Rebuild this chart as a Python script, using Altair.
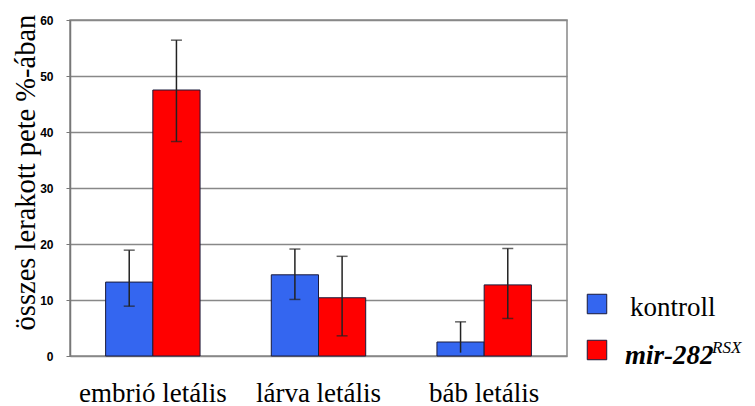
import altair as alt
import pandas as pd

categories = ["embrió letális", "lárva letális", "báb letális"]
series = ["kontroll", "mir-282RSX"]
kontroll = [13.2, 14.5, 2.5]
kontroll_lo = [8.9, 10.1, 0.6]
kontroll_hi = [18.9, 19.1, 6.1]
mir = [47.5, 10.4, 12.7]
mir_lo = [38.3, 3.6, 6.7]
mir_hi = [56.4, 17.8, 19.2]
y_ticks = [0, 10, 20, 30, 40, 50, 60]

rows = []
for i, c in enumerate(categories):
    rows.append(dict(cat=c, ser=series[0], v=kontroll[i], lo=kontroll_lo[i], hi=kontroll_hi[i]))
    rows.append(dict(cat=c, ser=series[1], v=mir[i], lo=mir_lo[i], hi=mir_hi[i]))
df = pd.DataFrame(rows)

SERIF = "Liberation Serif"
SANS = "Liberation Sans"
x = alt.X("cat:N", sort=categories, scale=alt.Scale(paddingInner=0.43, paddingOuter=0.215),
          axis=alt.Axis(title=None, labelAngle=0, labelFont=SERIF, labelFontSize=27,
                        labelColor="black", ticks=False, domain=False, labelPadding=24))
xo = alt.XOffset("ser:N", sort=series, scale=alt.Scale(paddingInner=0, paddingOuter=0))
color = alt.Color("ser:N", sort=series,
                  scale=alt.Scale(domain=series, range=["#3466F0", "#FF0000"]), legend=None)

yax = alt.Axis(values=y_ticks, title="összes lerakott pete %-ában", titleFont=SERIF,
               titleFontSize=28.5, titleFontWeight="normal", titleColor="black",
               titleX=-30, titleY=152, titleAngle=-90, titleBaseline="bottom",
               labelFont=SANS, labelFontWeight="bold", labelFontSize=12,
               labelColor="black", labelPadding=13, tickSize=4, tickColor="#777",
               domainColor="#777", domainWidth=1.5, gridColor="#888", gridWidth=1.5)

base = alt.Chart(df)
bars = base.mark_bar(stroke="#1a1a3a", strokeWidth=1).encode(
    x=x, xOffset=xo, color=color,
    y=alt.Y("v:Q", scale=alt.Scale(domain=[0, 60], nice=False), axis=yax),
)
rules = base.mark_rule(color="#222", strokeWidth=1.5).encode(
    x=x, xOffset=xo, y="lo:Q", y2="hi:Q")
caps_hi = base.mark_tick(color="#222", size=11, thickness=1.5).encode(
    x=x, xOffset=xo, y="hi:Q")
caps_lo = base.transform_filter("datum.lo > 1").mark_tick(color="#222", size=11, thickness=1.5).encode(
    x=x, xOffset=xo, y="lo:Q")

leg = pd.DataFrame({"k": [0]})
lb = alt.Chart(leg)
sq1 = lb.mark_square(size=380, fill="#3466F0", stroke="#1a1a3a", strokeWidth=1, opacity=1).encode(
    x=alt.value(527), y=alt.value(284))
sq2 = lb.mark_square(size=380, fill="#FF0000", stroke="#1a1a3a", strokeWidth=1, opacity=1).encode(
    x=alt.value(527), y=alt.value(330))
t1 = lb.mark_text(text="kontroll", font=SERIF, fontSize=27, align="left", baseline="alphabetic",
                  color="black").encode(x=alt.value(560), y=alt.value(296))
t2 = lb.mark_text(text="mir-282", font=SERIF, fontSize=27, fontWeight="bold", fontStyle="italic",
                  align="left", baseline="alphabetic", color="black").encode(
    x=alt.value(555), y=alt.value(344))
t3 = lb.mark_text(text="RSX", font=SERIF, fontSize=17, fontStyle="italic",
                  align="left", baseline="alphabetic", color="black").encode(
    x=alt.value(642), y=alt.value(333))

chart = alt.layer(bars, rules, caps_hi, caps_lo, sq1, sq2, t1, t2, t3).properties(
    width=497, height=336, background="white",
    autosize=alt.AutoSizeParams(type="none"),
    padding={"left": 62, "top": 12, "right": 180, "bottom": 60},
).configure_view(stroke="#888", strokeWidth=1.5)

chart.save("out.html", embed_options={"renderer": "svg", "actions": False})
